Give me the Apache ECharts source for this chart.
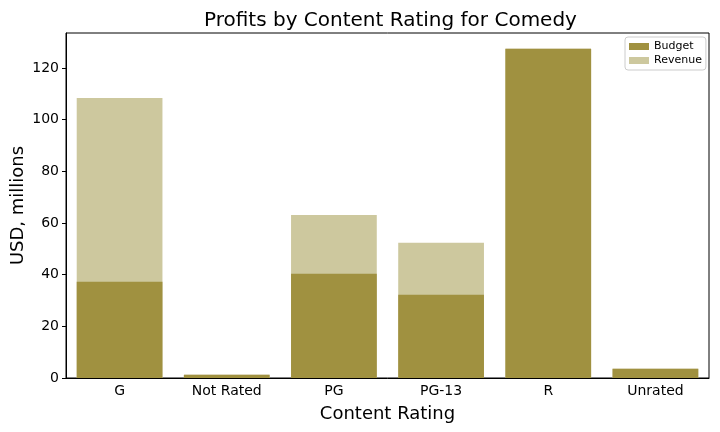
<!DOCTYPE html>
<html>
<head>
<meta charset="utf-8">
<script src="https://cdn.jsdelivr.net/npm/echarts@6/dist/echarts.min.js"></script>
<style>
  html, body { margin: 0; padding: 0; background: #fff; }
  #chart { width: 720px; height: 432px; }
</style>
</head>
<body>
<div id="chart"></div>
<script>
// values, USD millions
const ratings = ["G", "Not Rated", "PG", "PG-13", "R", "Unrated"];
const budget = [37.2, 1.3, 40.3, 32.2, 127.4, 3.6];
// revenue for R / Not Rated / Unrated is hidden behind the budget bars
const revenue = [108.3, 1.3, 63.1, 52.3, 127.4, 3.6];
const yTicks = [0, 20, 40, 60, 80, 100, 120];

const font = "DejaVu Sans";
const budgetColor = "#a09140";
const revenueColor = "#cdc89e";

const chart = echarts.init(document.getElementById("chart"));
chart.setOption({
  animation: false,
  textStyle: { fontFamily: font, color: "#000" },
  title: {
    text: "Profits by Content Rating for Comedy",
    left: 199,
    top: 6,
    textStyle: { fontFamily: font, fontSize: 20, fontWeight: "normal", color: "#000" }
  },
  legend: {
    orient: "vertical",
    left: 625,
    top: 37,
    padding: [4, 4, 4, 4],
    itemWidth: 20,
    itemHeight: 7,
    itemGap: 3,
    icon: "rect",
    borderColor: "#ccc",
    borderWidth: 1,
    borderRadius: 3,
    textStyle: { fontFamily: font, fontSize: 11, color: "#000" },
    data: ["Budget", "Revenue"]
  },
  grid: {
    left: 66,
    right: 11,
    top: 33,
    bottom: 54,
    show: true,
    borderColor: "#000",
    borderWidth: 1,
    containLabel: false,
    outerBoundsMode: "none"
  },
  xAxis: {
    type: "category",
    data: ratings,
    name: "Content Rating",
    nameLocation: "middle",
    nameGap: 27,
    nameMoveOverlap: false,
    nameTextStyle: { fontFamily: font, fontSize: 18, color: "#000" },
    axisLine: { lineStyle: { color: "#000" } },
    axisTick: { alignWithLabel: true, length: 4, lineStyle: { color: "#000" } },
    axisLabel: { fontFamily: font, fontSize: 14, color: "#000", margin: 6 }
  },
  yAxis: {
    type: "value",
    min: 0,
    max: 133.5,
    interval: 20,
    name: "USD, millions",
    nameLocation: "middle",
    nameGap: 39,
    nameMoveOverlap: false,
    nameTextStyle: { fontFamily: font, fontSize: 18, color: "#000" },
    splitLine: { show: false },
    axisLine: { show: true, lineStyle: { color: "#000" } },
    axisTick: { show: true, length: 4, customValues: yTicks, lineStyle: { color: "#000" } },
    axisLabel: { fontFamily: font, fontSize: 14, color: "#000", margin: 7, customValues: yTicks }
  },
  series: [
    {
      name: "Revenue",
      type: "bar",
      data: revenue,
      barCategoryGap: "20%",
      barGap: "-100%",
      itemStyle: { color: revenueColor }
    },
    {
      name: "Budget",
      type: "bar",
      data: budget,
      barCategoryGap: "20%",
      barGap: "-100%",
      itemStyle: { color: budgetColor }
    }
  ]
});
</script>
</body>
</html>
